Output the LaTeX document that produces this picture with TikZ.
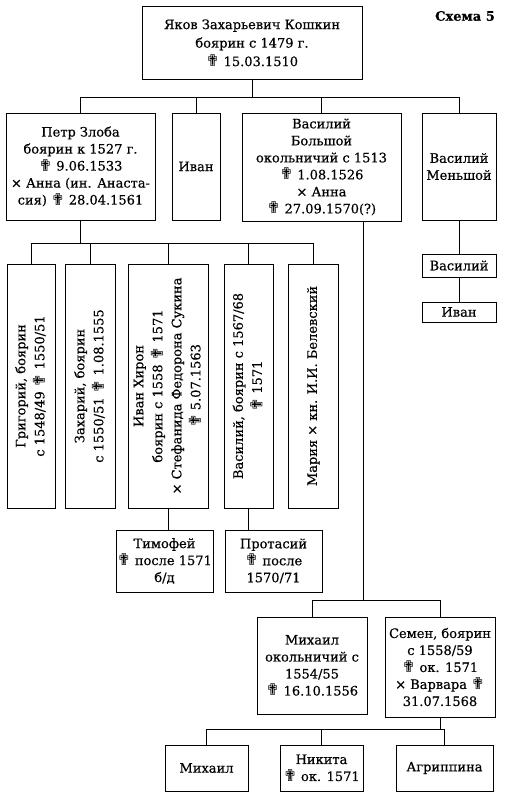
\documentclass[tikz,border=0pt]{standalone}
\usepackage{fontspec}
\usepackage{graphicx}
\setmainfont{DejaVu Serif}[FakeBold=0.5]
\newfontfamily\symf{DejaVu Sans}
\newcommand\dcross{\raisebox{-0.5pt}{\scalebox{1.25}{\symf ✟}}}
\newcommand\vt[1]{\rotatebox{90}{\renewcommand\arraystretch{1.12}\begin{tabular}{@{}c@{}}#1\end{tabular}}}
\tikzset{
  bx/.style={draw, line width=1pt, align=center, inner sep=0pt, font=\fontsize{13}{17}\selectfont},
  ln/.style={line width=1pt}
}
\begin{document}
\begin{tikzpicture}[x=1pt,y=-1pt]
\useasboundingbox (0,0) rectangle (509,800);
\node[font=\fontsize{13}{16}\selectfont\bfseries] (title) at (465,16) {Схема 5};
% generation 1
\node[bx, minimum width=220, minimum height=72, font=\fontsize{13}{18.5}\selectfont] (root) at (252,43) {Яков Захарьевич Кошкин\\боярин с 1479 г.\\\dcross{} 15.03.1510};
% generation 2
\node[bx, minimum width=149, minimum height=107] (petr) at (80.5,166.5) {Петр Злоба\\боярин к 1527 г.\\\dcross{} 9.06.1533\\× Анна (ин. Анаста-\\сия) \dcross{} 28.04.1561};
\node[bx, minimum width=48, minimum height=107] (ivan) at (196,166.5) {Иван};
\node[bx, minimum width=159, minimum height=108] (vb) at (321.5,167) {Василий\\Большой\\окольничий с 1513\\\dcross{} 1.08.1526\\× Анна\\\dcross{} 27.09.1570(?)};
\node[bx, minimum width=74, minimum height=107] (vm) at (459,166.5) {Василий\\Меньшой};
\node[bx, minimum width=74, minimum height=23] (vas2) at (459,265.5) {Василий};
\node[bx, minimum width=74, minimum height=20] (ivan2) at (459,312) {Иван};
% generation 3 (Petr's children)
\node[bx, minimum width=48, minimum height=244] (grig) at (31,386) {\vt{Григорий, боярин\\с 1548/49 \dcross{} 1550/51}};
\node[bx, minimum width=50, minimum height=244] (zach) at (90,386) {\vt{Захарий, боярин\\с 1550/51 \dcross{} 1.08.1555}};
\node[bx, minimum width=80, minimum height=244] (ihir) at (168,386) {\vt{Иван Хирон\\боярин с 1558 \dcross{} 1571\\× Стефанида Федорона Сукина\\\dcross{} 5.07.1563}};
\node[bx, minimum width=49, minimum height=244] (vas3) at (248.5,386) {\vt{Василий, боярин с 1567/68\\\dcross{} 1571}};
\node[bx, minimum width=50, minimum height=244] (maria) at (313,386) {\vt{Мария × кн. И.И. Белевский}};
% generation 4
\node[bx, minimum width=97, minimum height=62] (tim) at (164.5,561) {Тимофей\\\dcross{} после 1571\\б/д};
\node[bx, minimum width=97, minimum height=62] (prot) at (273.5,561) {Протасий\\\dcross{} после\\1570/71};
% Vasily Bolshoy's children
\node[bx, minimum width=110, minimum height=97] (mich) at (312,665.5) {Михаил\\окольничий с\\1554/55\\\dcross{} 16.10.1556};
\node[bx, minimum width=110, minimum height=100] (sem) at (440,667) {Семен, боярин\\с 1558/59\\\dcross{} ок. 1571\\× Варвара \dcross\\31.07.1568};
% Semen's children
\node[bx, minimum width=83, minimum height=46] (mich2) at (206.5,768) {Михаил};
\node[bx, minimum width=83, minimum height=46] (nik) at (321.5,768) {Никита\\\dcross{} ок. 1571};
\node[bx, minimum width=97, minimum height=46] (agr) at (444.5,768) {Агриппина};
% connectors
\draw[ln] (root.south) -- (root.south |- 0,97);
\draw[ln] (petr.north) -- (petr.north |- 0,97) -| (vm.north);
\draw[ln] (ivan.north) -- (ivan.north |- 0,97);
\draw[ln] (vb.north) -- (vb.north |- 0,97);
\draw[ln] (vm.south) -- (vas2.north);
\draw[ln] (vas2.south) -- (ivan2.north);
\draw[ln] (petr.south) -- (petr.south |- 0,243);
\draw[ln] (grig.north) -- (grig.north |- 0,243) -| (maria.north);
\draw[ln] (zach.north) -- (zach.north |- 0,243);
\draw[ln] (ihir.north) -- (ihir.north |- 0,243);
\draw[ln] (vas3.north) -- (vas3.north |- 0,243);
\draw[ln] (ihir.south) -- (ihir.south |- tim.north);
\draw[ln] (vas3.south) -- (vas3.south |- prot.north);
\draw[ln] ([xshift=42]vb.south) -- ([xshift=42]vb.south |- 0,600);
\draw[ln] (mich.north) -- (mich.north |- 0,600) -| (sem.north);
\draw[ln] (sem.south) -- (sem.south |- 0,729);
\draw[ln] (mich2.north) -- (mich2.north |- 0,729) -| (agr.north);
\draw[ln] (nik.north) -- (nik.north |- 0,729);
\end{tikzpicture}
\end{document}
